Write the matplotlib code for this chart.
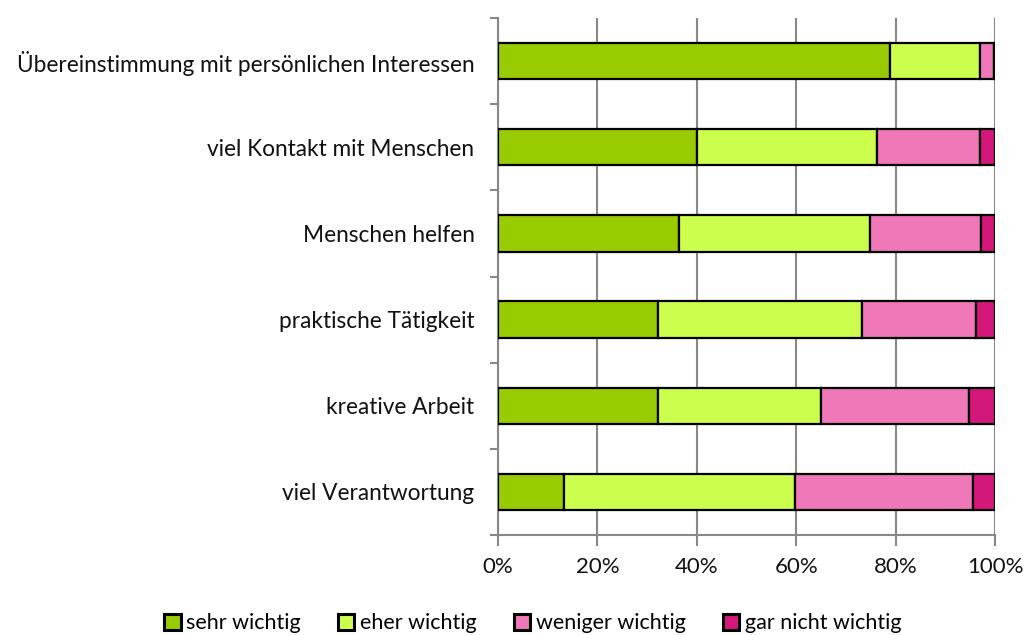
import numpy as np
import matplotlib.pyplot as plt
from matplotlib.ticker import FixedLocator

# data (percent)
categories = ['Übereinstimmung mit persönlichen Interessen', 'viel Kontakt mit Menschen',
              'Menschen helfen', 'praktische Tätigkeit', 'kreative Arbeit', 'viel Verantwortung']
sehr_wichtig = [78.9, 40.1, 36.5, 32.2, 32.2, 13.3]
eher_wichtig = [18.0, 36.1, 38.3, 41.0, 32.8, 46.5]
weniger_wichtig = [2.8, 20.8, 22.4, 22.9, 29.8, 35.8]
gar_nicht_wichtig = [0.3, 3.0, 2.8, 3.9, 5.2, 4.4]

series = {'sehr wichtig': sehr_wichtig, 'eher wichtig': eher_wichtig,
          'weniger wichtig': weniger_wichtig, 'gar nicht wichtig': gar_nicht_wichtig}
colors = ['#99cc00', '#ccff4d', '#f078b8', '#d4177a']

plt.rcParams['font.family'] = ['Lato', 'DejaVu Sans']

fig = plt.figure(figsize=(10.25, 6.35), dpi=100)
ax = fig.add_axes([498 / 1025, 1 - 535 / 635, 497 / 1025, 517 / 635])

y = np.arange(len(categories))[::-1]
left = np.zeros(len(categories))
for (name, vals), c in zip(series.items(), colors):
    ax.barh(y, vals, left=left, height=0.42, color=c, edgecolor='black',
            linewidth=1.6, label=name, zorder=3)
    left += np.array(vals)

ax.set_xlim(0, 100)
ax.set_ylim(-0.5, len(categories) - 0.5)
ax.set_xticks(np.arange(0, 101, 20))
ax.set_xticklabels([f'{v}%' for v in range(0, 101, 20)], fontsize=16, color='#111111')
ax.set_yticks(y)
ax.set_yticklabels(categories, fontsize=16.3, color='#111111')
ax.tick_params(axis='y', which='major', length=0, pad=17)
ax.yaxis.set_minor_locator(FixedLocator(np.arange(-0.5, len(categories), 1.0)))
ax.tick_params(axis='y', which='minor', length=6, width=1.5, color='#888888', direction='out')
ax.tick_params(axis='x', length=8, width=1.5, color='#888888', direction='out', pad=8)

ax.grid(axis='x', color='#888888', linewidth=1.5, zorder=0)
for s in ['top', 'right']:
    ax.spines[s].set_visible(False)
for s in ['left', 'bottom']:
    ax.spines[s].set_color('#888888')
    ax.spines[s].set_linewidth(1.5)

leg = ax.legend(loc='upper center', bbox_to_anchor=(0.07, -0.135), ncol=4, frameon=False,
                fontsize=15.5, handlelength=0.75, handleheight=0.75, handletextpad=0.25,
                columnspacing=1.75, borderaxespad=0)
for h in leg.legend_handles:
    h.set_linewidth(2.2)

fig.savefig('out.png', dpi=100)
